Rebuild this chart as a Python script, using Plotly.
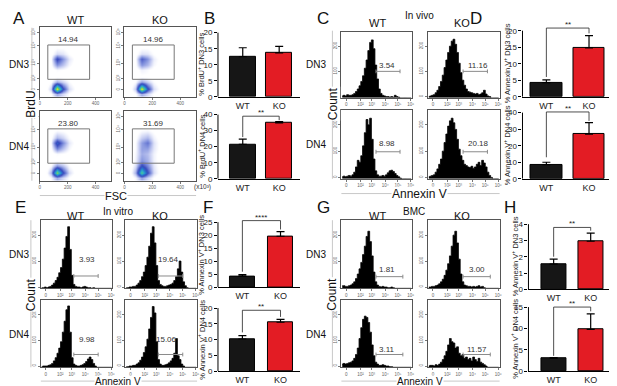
import plotly.graph_objects as go

W, H = 617, 386
FONT = "Liberation Sans, Arial, sans-serif"

# ======================= DATA =======================
groups = ["WT", "KO"]

# bar panels: mean and SEM
B_dn3_mean, B_dn3_sem = [12.5, 13.7], [2.8, 2.0]
B_dn4_mean, B_dn4_sem = [21.5, 34.8], [3.2, 0.8]
D_dn3_mean, D_dn3_sem = [4.3, 14.8], [0.8, 3.7]
D_dn4_mean, D_dn4_sem = [8.5, 27.0], [1.5, 7.0]
F_dn3_mean, F_dn3_sem = [4.3, 19.6], [0.6, 1.8]
F_dn4_mean, F_dn4_sem = [10.2, 15.5], [1.1, 0.9]
H_dn3_mean, H_dn3_sem = [1.55, 2.95], [0.3, 0.5]
H_dn4_mean, H_dn4_sem = [3.0, 9.8], [0.2, 3.6]

ticks_20 = [0, 5, 10, 15, 20]
ticks_40 = [0, 10, 20, 30, 40]
ticks_25 = [0, 5, 10, 15, 20, 25]
ticks_4 = [0, 1, 2, 3, 4]
ticks_15 = [0, 5, 10, 15]

# gate percentages
A_pct = {"WT_DN3": "14.94", "KO_DN3": "14.96", "WT_DN4": "23.80", "KO_DN4": "31.69"}
C_pct = {"WT_DN3": "3.54", "KO_DN3": "11.16", "WT_DN4": "8.98", "KO_DN4": "20.18"}
E_pct = {"WT_DN3": "3.93", "KO_DN3": "19.64", "WT_DN4": "9.98", "KO_DN4": "15.06"}
G_pct = {"WT_DN3": "1.81", "KO_DN3": "3.00", "WT_DN4": "3.11", "KO_DN4": "11.57"}

# flow dot-plot density grids (BrdU rows listed top -> bottom, FSC columns left -> right)
FSC_CENTERS = [36, 79, 122, 165, 208, 251, 294, 337, 380, 423, 466, 509]
BRDU_LEVELS = [0.04, 0.12, 0.21, 0.29, 0.38, 0.46, 0.54, 0.62, 0.71, 0.79, 0.88, 0.96]
FSC_TICKS = [0, 200, 400]
BRDU_TICKVALS = [0.10, 0.26, 0.48, 0.73, 0.92]
BRDU_TICKTEXT = ["0", "10²", "10³", "10⁴", "10⁵"]

A_WT_DN3 = [
    [0, 0, 0, 0, 0, 0, 0, 0, 0, 0, 0, 0],
    [0, 0, 0, 0, 0, 0, 0, 0, 0, 0, 0, 0],
    [0, 0, 0.1, 0.1, 0, 0, 0, 0, 0, 0, 0, 0],
    [0, 0.1, 0.4, 0.4, 0.2, 0.1, 0, 0, 0, 0, 0, 0],
    [0, 0.3, 1.2, 1.0, 0.5, 0.2, 0.1, 0, 0, 0, 0, 0],
    [0, 0.5, 4.0, 2.4, 1.0, 0.4, 0.2, 0.1, 0, 0, 0, 0],
    [0, 0.4, 2.4, 1.6, 0.7, 0.3, 0.1, 0, 0, 0, 0, 0],
    [0, 0.2, 0.6, 0.5, 0.3, 0.1, 0, 0, 0, 0, 0, 0],
    [0, 0.1, 0.3, 0.3, 0.2, 0.1, 0, 0, 0, 0, 0, 0],
    [0, 0.5, 2.0, 1.3, 0.6, 0.2, 0.1, 0, 0, 0, 0, 0],
    [0, 1.4, 10, 4.0, 1.2, 0.5, 0.2, 0, 0, 0, 0, 0],
    [0, 0.5, 2.0, 1.2, 0.5, 0.2, 0, 0, 0, 0, 0, 0],
]
A_KO_DN3 = [
    [0, 0, 0, 0, 0, 0, 0, 0, 0, 0, 0, 0],
    [0, 0, 0, 0, 0, 0, 0, 0, 0, 0, 0, 0],
    [0, 0, 0.1, 0.1, 0, 0, 0, 0, 0, 0, 0, 0],
    [0, 0.1, 0.4, 0.4, 0.2, 0.1, 0, 0, 0, 0, 0, 0],
    [0, 0.3, 1.1, 1.0, 0.5, 0.2, 0.1, 0, 0, 0, 0, 0],
    [0, 0.5, 3.4, 2.4, 0.9, 0.4, 0.2, 0.1, 0, 0, 0, 0],
    [0, 0.4, 2.4, 1.8, 0.7, 0.3, 0.1, 0, 0, 0, 0, 0],
    [0, 0.2, 0.8, 0.6, 0.3, 0.1, 0, 0, 0, 0, 0, 0],
    [0, 0.2, 0.4, 0.4, 0.2, 0.1, 0, 0, 0, 0, 0, 0],
    [0, 0.6, 2.2, 1.4, 0.6, 0.2, 0.1, 0, 0, 0, 0, 0],
    [0, 1.6, 10, 4.2, 1.2, 0.5, 0.2, 0, 0, 0, 0, 0],
    [0, 0.5, 2.0, 1.2, 0.5, 0.2, 0, 0, 0, 0, 0, 0],
]
A_WT_DN4 = [
    [0, 0, 0, 0, 0, 0, 0, 0, 0, 0, 0, 0],
    [0, 0, 0, 0, 0, 0, 0, 0, 0, 0, 0, 0],
    [0, 0, 0.1, 0.1, 0.1, 0, 0, 0, 0, 0, 0, 0],
    [0, 0.2, 0.6, 0.5, 0.3, 0.1, 0, 0, 0, 0, 0, 0],
    [0, 0.4, 1.8, 1.3, 0.6, 0.2, 0.1, 0, 0, 0, 0, 0],
    [0, 0.6, 4.6, 2.6, 1.0, 0.4, 0.1, 0, 0, 0, 0, 0],
    [0, 0.4, 2.6, 1.6, 0.7, 0.2, 0.1, 0, 0, 0, 0, 0],
    [0, 0.2, 0.6, 0.5, 0.3, 0.1, 0, 0, 0, 0, 0, 0],
    [0, 0.1, 0.3, 0.3, 0.2, 0, 0, 0, 0, 0, 0, 0],
    [0, 0.6, 2.4, 1.6, 0.6, 0.2, 0.1, 0, 0, 0, 0, 0],
    [0, 1.8, 8.6, 4.0, 1.2, 0.4, 0.1, 0, 0, 0, 0, 0],
    [0, 0.6, 2.0, 1.2, 0.5, 0.1, 0, 0, 0, 0, 0, 0],
]
A_KO_DN4 = [
    [0, 0, 0, 0, 0, 0, 0, 0, 0, 0, 0, 0],
    [0, 0, 0, 0, 0, 0, 0, 0, 0, 0, 0, 0],
    [0, 0, 0.2, 0.2, 0.1, 0, 0, 0, 0, 0, 0, 0],
    [0, 0.2, 0.6, 0.7, 0.4, 0.1, 0, 0, 0, 0, 0, 0],
    [0, 0.4, 1.4, 1.8, 0.8, 0.3, 0.1, 0, 0, 0, 0, 0],
    [0, 0.6, 2.2, 3.0, 1.1, 0.4, 0.2, 0, 0, 0, 0, 0],
    [0, 0.6, 2.2, 2.2, 1.0, 0.4, 0.1, 0, 0, 0, 0, 0],
    [0, 0.7, 2.0, 1.7, 0.8, 0.3, 0.1, 0, 0, 0, 0, 0],
    [0, 0.8, 2.4, 1.9, 0.8, 0.3, 0.1, 0, 0, 0, 0, 0],
    [0, 1.2, 4.0, 2.6, 1.0, 0.3, 0.1, 0, 0, 0, 0, 0],
    [0, 2.0, 7.8, 3.8, 1.2, 0.4, 0.1, 0, 0, 0, 0, 0],
    [0, 0.7, 2.2, 1.3, 0.5, 0.1, 0, 0, 0, 0, 0, 0],
]

# Annexin V histograms: counts in 40 bins across the display range
C_WT_DN3 = [3, 4, 3, 5, 4, 4, 5, 7, 10, 14, 19, 26, 35, 47, 60, 75, 88, 92, 78, 52,
            30, 14, 7, 4, 3, 2, 2, 1, 2, 1, 4, 2, 1, 0, 0, 0, 0, 0, 0, 0]
C_KO_DN3 = [2, 3, 4, 5, 8, 12, 18, 26, 36, 48, 60, 72, 82, 90, 93, 85, 72, 55, 40, 28,
            20, 14, 10, 9, 8, 7, 6, 7, 5, 6, 8, 12, 6, 3, 2, 0, 0, 0, 0, 0]
C_WT_DN4 = [3, 4, 3, 4, 5, 4, 6, 10, 18, 28, 25, 35, 50, 70, 90, 82, 92, 60, 30, 12,
            6, 4, 4, 5, 4, 6, 9, 12, 13, 11, 8, 5, 3, 1, 0, 0, 0, 0, 0, 0]
C_KO_DN4 = [3, 4, 5, 6, 10, 15, 22, 30, 42, 55, 68, 80, 88, 92, 85, 75, 60, 45, 35, 28,
            22, 20, 18, 17, 19, 16, 18, 22, 25, 20, 28, 24, 18, 10, 5, 2, 0, 0, 0, 0]
E_WT_DN3 = [1, 1, 2, 1, 2, 3, 5, 8, 12, 17, 24, 32, 45, 62, 80, 95, 60, 20, 6, 3,
            2, 2, 1, 2, 3, 2, 1, 1, 0, 1, 0, 0, 0, 0, 0, 0, 0, 0, 0, 0]
E_KO_DN3 = [1, 1, 2, 2, 3, 3, 5, 8, 12, 18, 25, 35, 48, 65, 85, 95, 70, 35, 12, 6,
            4, 3, 3, 4, 5, 6, 8, 12, 18, 30, 42, 25, 10, 4, 1, 0, 0, 0, 0, 0]
E_WT_DN4 = [1, 2, 2, 2, 3, 4, 6, 10, 15, 22, 30, 40, 55, 72, 90, 96, 55, 15, 5, 3,
            2, 2, 3, 4, 6, 9, 13, 16, 12, 6, 2, 0, 0, 0, 0, 0, 0, 0, 0, 0]
E_KO_DN4 = [1, 1, 2, 2, 3, 3, 5, 7, 11, 16, 23, 32, 44, 60, 78, 95, 85, 40, 12, 5,
            3, 3, 4, 5, 7, 10, 14, 22, 45, 18, 12, 5, 2, 0, 0, 0, 0, 0, 0, 0]
G_WT_DN3 = [4, 4, 3, 3, 4, 5, 7, 10, 15, 22, 30, 40, 52, 65, 80, 88, 72, 50, 25, 10,
            5, 3, 2, 3, 2, 2, 1, 1, 2, 1, 0, 0, 0, 0, 0, 0, 0, 0, 0, 0]
G_KO_DN3 = [2, 2, 3, 3, 4, 5, 7, 10, 14, 20, 28, 38, 50, 65, 82, 88, 70, 45, 22, 10,
            5, 4, 3, 3, 2, 3, 2, 3, 4, 2, 3, 1, 0, 0, 0, 0, 0, 0, 0, 0]
G_WT_DN4 = [5, 6, 5, 6, 7, 8, 10, 14, 20, 30, 45, 62, 75, 80, 78, 70, 55, 35, 18, 8,
            5, 3, 3, 4, 3, 2, 2, 1, 1, 0, 0, 0, 0, 0, 0, 0, 0, 0, 0, 0]
G_KO_DN4 = [2, 3, 3, 2, 4, 3, 5, 8, 12, 18, 25, 35, 45, 40, 38, 30, 32, 22, 18, 20,
            14, 16, 12, 14, 10, 16, 12, 9, 14, 8, 6, 4, 2, 0, 0, 0, 0, 0, 0, 0]

HBINS = [(i + 0.5) / 40 for i in range(40)]
ANX_TICKVALS = [0.07, 0.27, 0.43, 0.62, 0.80, 0.98]
ANX_TICKTEXT = ["0", "10²", "10³", "10⁴", "10⁵", "10⁶"]
CNT_TICKVALS = [2, 42, 82]
CNT_TICKTEXT = ["0", "100", "200"]

# ======================= FIGURE =======================
fig = go.Figure()
_n = [0]
TICKF = dict(size=4.5, color="#666", family=FONT)


def add_axes(x0, x1, y0, y1, xkw, ykw):
    _n[0] += 1
    n = _n[0]
    xr = "x" if n == 1 else f"x{n}"
    yr = "y" if n == 1 else f"y{n}"
    xname = "xaxis" if n == 1 else f"xaxis{n}"
    yname = "yaxis" if n == 1 else f"yaxis{n}"
    fig.update_layout(**{
        xname: dict(domain=[x0 / W, x1 / W], anchor=yr, fixedrange=True,
                    showgrid=False, zeroline=False, **xkw),
        yname: dict(domain=[1 - y1 / H, 1 - y0 / H], anchor=xr, fixedrange=True,
                    showgrid=False, zeroline=False, **ykw),
    })
    return xr, yr


def txt(s, x, y, size, angle=0, color="#111", bg=None, xanchor="center"):
    fig.add_annotation(text=s, x=x / W, y=1 - y / H, xref="paper", yref="paper",
                       showarrow=False, textangle=angle, xanchor=xanchor, yanchor="middle",
                       font=dict(size=size, color=color, family=FONT),
                       bgcolor=bg, borderpad=0)


def pline(x0, y0, x1, y1, color="#c8c8c8", w=1):
    fig.add_shape(type="line", xref="paper", yref="paper", x0=x0 / W, x1=x1 / W,
                  y0=1 - y0 / H, y1=1 - y1 / H, line=dict(color=color, width=w))


BAR_COLORS = ["#161616", "#e31c24"]


def bar_panel(xl, xr_px, y0px, ymaxpx, ymax, yticks, means, sems, xlim, bw,
              bracket, ylabel, ylab_x):
    top_needed = max(ymax, bracket[0] if bracket else ymax)
    rtop = top_needed * 1.06
    span = y0px - ymaxpx
    ytop_px = ymaxpx - (rtop - ymax) / ymax * span
    xa, ya = add_axes(
        xl, xr_px, ytop_px, y0px,
        dict(range=xlim, tickvals=[0, 1], ticktext=groups, showline=True,
             linecolor="black", linewidth=1, ticks="",
             tickfont=dict(size=9, color="#222", family=FONT)),
        dict(range=[0, rtop], tickvals=yticks, ticks="outside", ticklen=3,
             tickwidth=1, tickcolor="black", showline=False,
             tickfont=dict(size=8, color="#222", family=FONT)))
    fig.add_trace(go.Bar(
        x=[0, 1], y=means, width=bw, xaxis=xa, yaxis=ya, showlegend=False,
        hoverinfo="skip",
        marker=dict(color=BAR_COLORS, line=dict(color="black", width=1)),
        error_y=dict(type="data", symmetric=False, array=sems, arrayminus=[0, 0],
                     color="black", thickness=1.2, width=4)))
    fig.add_shape(type="line", xref=f"{xa} domain", yref=ya, x0=0, x1=0, y0=0, y1=ymax,
                  line=dict(color="black", width=1))
    if bracket:
        yb, yl, yrr, stars = bracket
        fig.add_shape(type="path", xref=xa, yref=ya,
                      path=f"M 0,{yl} L 0,{yb} L 1,{yb} L 1,{yrr}",
                      line=dict(color="#222", width=0.8))
        fig.add_annotation(text=stars, x=0.5, y=yb, xref=xa, yref=ya, showarrow=False,
                           yanchor="bottom", yshift=-3,
                           font=dict(size=8, color="#222", family=FONT))
    txt(ylabel, ylab_x, (y0px + ymaxpx) / 2, 7.5, angle=-90, color="#222")


def hist_panel(x0, x1, y0, y1, vals, gate, pct, lab_x, lab_y):
    xa, ya = add_axes(
        x0, x1, y0, y1,
        dict(range=[0, 1], showline=True, mirror=True, linecolor="#555", linewidth=1,
             ticks="outside", ticklen=2, tickwidth=0.6, tickcolor="#777",
             tickvals=ANX_TICKVALS, ticktext=ANX_TICKTEXT, tickfont=TICKF),
        dict(range=[0, 105], showline=True, mirror=True, linecolor="#555", linewidth=1,
             ticks="outside", ticklen=2, tickwidth=0.6, tickcolor="#777",
             tickvals=CNT_TICKVALS, ticktext=CNT_TICKTEXT, tickangle=-90, tickfont=TICKF))
    fig.add_trace(go.Scatter(x=HBINS, y=vals, mode="lines", xaxis=xa, yaxis=ya,
                             line=dict(color="black", width=0.8, shape="hvh"),
                             fill="tozeroy", fillcolor="black",
                             showlegend=False, hoverinfo="skip"))
    gx0, gx1, gy = gate
    gl = dict(color="#8a8a8a", width=1)
    fig.add_shape(type="line", xref=xa, yref=ya, x0=gx0, x1=gx1, y0=gy, y1=gy, line=gl)
    fig.add_shape(type="line", xref=xa, yref=ya, x0=gx0, x1=gx0, y0=gy - 3, y1=gy + 3, line=gl)
    fig.add_shape(type="line", xref=xa, yref=ya, x0=gx1, x1=gx1, y0=gy - 3, y1=gy + 3, line=gl)
    fig.add_annotation(text=pct, x=lab_x, y=lab_y, xref=xa, yref=ya, showarrow=False,
                       font=dict(size=8, color="#333", family=FONT))


COLORSCALE = [[0, "#ffffff"], [0.05, "#ffffff"], [0.08, "#f0f2fc"], [0.15, "#c3caf1"],
              [0.25, "#8090dd"], [0.38, "#3848bd"], [0.5, "#2a6fcc"], [0.65, "#2bb0d0"],
              [0.8, "#5ccb74"], [0.9, "#b4dc35"], [1.0, "#f0e62a"]]


def dot_panel(x0, x1, y0, y1, grid, pct):
    xa, ya = add_axes(
        x0, x1, y0, y1,
        dict(range=[0, 514], showline=True, mirror=True, linecolor="#555", linewidth=1,
             ticks="outside", ticklen=2, tickwidth=0.6, tickcolor="#777",
             tickvals=FSC_TICKS, tickfont=TICKF),
        dict(range=[0, 1], showline=True, mirror=True, linecolor="#555", linewidth=1,
             ticks="outside", ticklen=2, tickwidth=0.6, tickcolor="#777",
             tickvals=BRDU_TICKVALS, ticktext=BRDU_TICKTEXT, tickangle=-90, tickfont=TICKF))
    fig.add_trace(go.Heatmap(x=FSC_CENTERS, y=BRDU_LEVELS[::-1], z=grid, zmin=0, zmax=10,
                             zsmooth="best", colorscale=COLORSCALE, showscale=False,
                             xaxis=xa, yaxis=ya, hoverinfo="skip"))
    fig.add_shape(type="rect", xref=xa, yref=ya, x0=57, x1=357, y0=0.25, y1=0.74,
                  line=dict(color="#777", width=1))
    fig.add_annotation(text=pct, x=207, y=0.82, xref=xa, yref=ya, showarrow=False,
                       font=dict(size=8, color="#333", family=FONT))


# ---------------- Panel A ----------------
dot_panel(31, 103, 19, 90, A_WT_DN3, A_pct["WT_DN3"])
dot_panel(116, 188, 19, 90, A_KO_DN3, A_pct["KO_DN3"])
dot_panel(31, 103, 104, 175, A_WT_DN4, A_pct["WT_DN4"])
dot_panel(116, 188, 104, 175, A_KO_DN4, A_pct["KO_DN4"])
pline(23, 20, 23, 175)
pline(31, 190, 188, 190)
txt("A", 10, 11, 17)
txt("WT", 67, 12, 11)
txt("KO", 152, 12, 11)
txt("DN3", 10, 57, 10)
txt("DN4", 10, 140, 10)
txt("BrdU", 22, 97, 12, angle=-90, bg="white")
txt("FSC", 108, 190, 11, bg="white")
txt("(x10³)", 194, 181, 6.5, color="#333")

# ---------------- Panel B ----------------
txt("B", 201, 11, 17)
bar_panel(210, 292, 90, 25, 20, ticks_20, B_dn3_mean, B_dn3_sem, [-0.68, 1.56], 0.71,
          None, "% BrdU<sup>+</sup> DN3 cells", 193)
bar_panel(210, 292, 173, 108, 40, ticks_40, B_dn4_mean, B_dn4_sem, [-0.68, 1.56], 0.71,
          (39, 26, 36.5, "**"), "% BrdU<sup>+</sup> DN4 cells", 193)

# ---------------- Panel C ----------------
hist_panel(334, 405, 24, 91, C_WT_DN3, (0.49, 0.83, 42), C_pct["WT_DN3"], 0.65, 52)
hist_panel(421, 493, 24, 91, C_KO_DN3, (0.49, 0.83, 42), C_pct["KO_DN3"], 0.7, 52)
hist_panel(334, 405, 103, 173, C_WT_DN4, (0.49, 0.83, 41), C_pct["WT_DN4"], 0.65, 53)
hist_panel(421, 493, 103, 173, C_KO_DN4, (0.49, 0.83, 41), C_pct["KO_DN4"], 0.7, 53)
pline(325, 23, 325, 173)
pline(334, 188, 493, 188)
txt("C", 316, 11, 17)
txt("In vivo", 413, 8, 10)
txt("WT", 370, 15, 11)
txt("KO", 455, 15, 11)
txt("DN3", 309, 57, 10)
txt("DN4", 309, 138, 10)
txt("Count", 325, 97, 12, angle=-90, bg="white")
txt("Annexin V", 413, 188, 12, bg="white")

# ---------------- Panel D ----------------
txt("D", 469, 11, 17)
bar_panel(516, 603, 90, 23, 20, ticks_20, D_dn3_mean, D_dn3_sem, [-0.56, 1.47], 0.74,
          (20.8, 6, 19.2, "**"), "% Annexin V<sup>+</sup> DN3 cells", 500)
bar_panel(516, 603, 173, 106, 40, ticks_40, D_dn4_mean, D_dn4_sem, [-0.56, 1.47], 0.74,
          (40.4, 13, 35, "**"), "% Annexin V<sup>+</sup> DN4 cells", 500)

# ---------------- Panel E ----------------
hist_panel(32, 104, 215, 284, E_WT_DN3, (0.46, 0.8, 19), E_pct["WT_DN3"], 0.64, 44)
hist_panel(117, 189, 215, 284, E_KO_DN3, (0.46, 0.8, 19), E_pct["KO_DN3"], 0.6, 44)
hist_panel(32, 104, 296, 364, E_WT_DN4, (0.46, 0.8, 20), E_pct["WT_DN4"], 0.64, 43)
hist_panel(117, 189, 296, 364, E_KO_DN4, (0.46, 0.8, 20), E_pct["KO_DN4"], 0.57, 43)
pline(22, 215, 22, 364)
pline(32, 378, 189, 378)
txt("E", 12, 202, 17)
txt("In vitro", 110, 206, 10)
txt("WT", 67, 211, 11)
txt("KO", 152, 211, 11)
txt("DN3", 10, 250, 10)
txt("DN4", 10, 331, 10)
txt("Count", 22, 290, 12, angle=-90, bg="white")
txt("Annexin V", 110, 378, 10, bg="white")

# ---------------- Panel F ----------------
txt("F", 200, 202, 17)
bar_panel(210, 292, 283, 217, 25, ticks_25, F_dn3_mean, F_dn3_sem, [-0.64, 1.5], 0.66,
          (25.6, 6, 22.2, "****"), "% Annexin V<sup>+</sup> DN3 cells", 193)
bar_panel(210, 292, 368, 304, 20, ticks_20, F_dn4_mean, F_dn4_sem, [-0.64, 1.5], 0.66,
          (19.3, 12.3, 17.2, "**"), "% Annexin V<sup>+</sup> DN4 cells", 193)

# ---------------- Panel G ----------------
hist_panel(334, 405, 215, 284, G_WT_DN3, (0.49, 0.87, 18), G_pct["WT_DN3"], 0.65, 29)
hist_panel(421, 493, 215, 284, G_KO_DN3, (0.49, 0.87, 18), G_pct["KO_DN3"], 0.68, 29)
hist_panel(334, 405, 296, 364, G_WT_DN4, (0.49, 0.87, 20), G_pct["WT_DN4"], 0.65, 28)
hist_panel(421, 493, 296, 364, G_KO_DN4, (0.49, 0.87, 20), G_pct["KO_DN4"], 0.68, 28)
pline(325, 215, 325, 364)
pline(334, 378, 493, 378)
txt("G", 316, 202, 17)
txt("BMC", 407, 206, 10)
txt("WT", 370, 211, 11)
txt("KO", 455, 211, 11)
txt("DN3", 309, 250, 10)
txt("DN4", 309, 331, 10)
txt("Count", 325, 290, 12, angle=-90, bg="white")
txt("Annexin V", 413, 378, 10, bg="white")

# ---------------- Panel H ----------------
txt("H", 503, 202, 17)
bar_panel(522, 605, 285, 219, 4, ticks_4, H_dn3_mean, H_dn3_sem, [-0.68, 1.55], 0.68,
          (3.8, 2.0, 3.6, "**"), "% Annexin V<sup>+</sup> DN3 cells", 508)
bar_panel(522, 605, 368, 303, 15, ticks_15, H_dn4_mean, H_dn4_sem, [-0.68, 1.55], 0.68,
          (15, 3.6, 14, "**"), "% Annexin V<sup>+</sup> DN4 cells", 508)

fig.update_layout(width=W, height=H, margin=dict(l=0, r=0, t=0, b=0),
                  paper_bgcolor="white", plot_bgcolor="rgba(0,0,0,0)",
                  showlegend=False, bargap=0, font=dict(family=FONT))
fig.write_html("out.html")
